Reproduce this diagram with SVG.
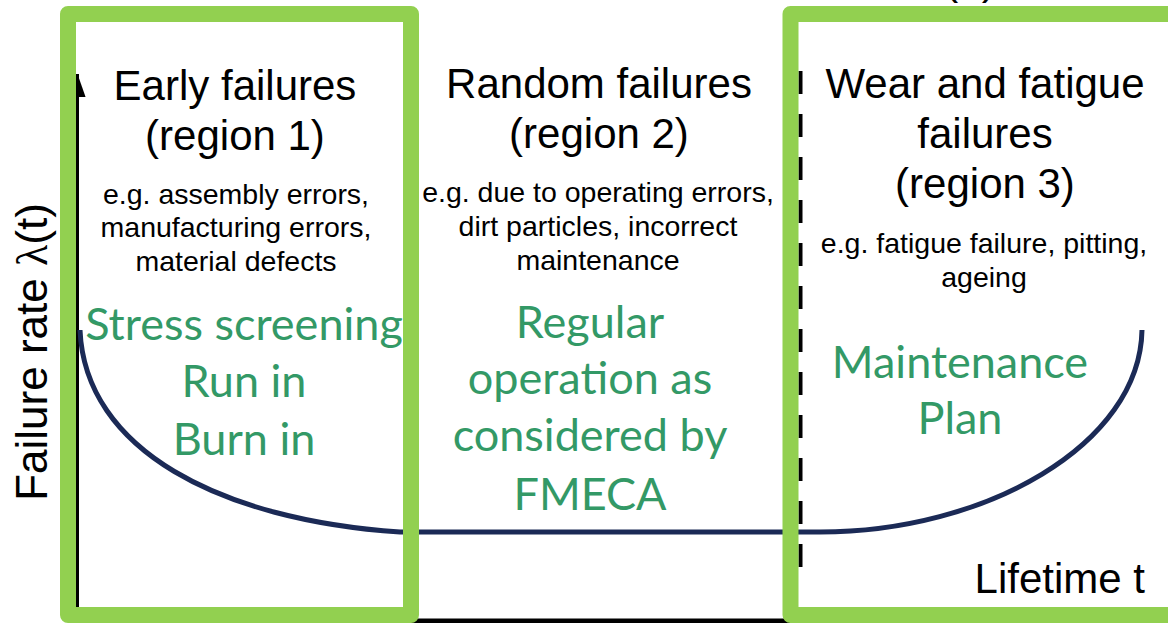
<svg xmlns="http://www.w3.org/2000/svg" width="1168" height="623" viewBox="0 0 1168 623">
  <style>
    .title { font-family: "Liberation Sans", Arial, sans-serif; font-size: 42px; fill: #000; text-anchor: middle; }
    .note { font-family: "Liberation Sans", Arial, sans-serif; font-size: 28.5px; fill: #000; text-anchor: middle; }
    .measure { font-family: Lato, "Open Sans", sans-serif; font-size: 45px; fill: #339966; text-anchor: middle; }
    .frame { fill: none; stroke: #92d050; stroke-width: 16; stroke-linejoin: round; }
    .curve { fill: none; stroke: #1b2a56; stroke-width: 5; }
  </style>
  <defs>
    <marker id="axisHead" viewBox="0 0 10 10" refX="10" refY="5" markerWidth="7.7" markerHeight="5.4" markerUnits="strokeWidth" orient="auto" preserveAspectRatio="none">
      <path d="M0,0 L10,5 L0,10 Z" fill="#000"/>
    </marker>
  </defs>

  <rect width="1168" height="623" fill="#fff"/>

  <!-- caption above the chart, running off the top edge -->
  <text class="title" x="970" y="-6">(a)</text>

  <!-- axes, bathtub curve and region boundary -->
  <g id="connectors">
    <line x1="77.5" y1="608" x2="77.5" y2="74" stroke="#000" stroke-width="3" marker-end="url(#axisHead)"/>
    <line x1="70" y1="621" x2="1160" y2="621" stroke="#000" stroke-width="5"/>
    <line x1="800.5" y1="71" x2="800.5" y2="584" stroke="#000" stroke-width="4" stroke-dasharray="23 20"/>
    <path class="curve" d="M80,330 C85,450 220,520 400,532 L820,532 C985,532 1140,445 1142,330"/>
  </g>

  <!-- y axis label -->
  <text class="title" style="font-size:44px" transform="translate(47,352) rotate(-90)">Failure rate <tspan font-family="'Liberation Serif', serif">λ</tspan>(t)</text>

  <!-- x axis label -->
  <text class="title" x="1145" y="593" style="text-anchor:end">Lifetime t</text>

  <g id="region1">
    <text class="title" x="235" y="100">Early failures</text>
    <text class="title" x="235" y="150">(region 1)</text>
    <text class="note" x="236" y="204">e.g. assembly errors,</text>
    <text class="note" x="236" y="237">manufacturing errors,</text>
    <text class="note" x="236" y="271">material defects</text>
    <text class="measure" x="244" y="340">Stress screening</text>
    <text class="measure" x="244" y="397">Run in</text>
    <text class="measure" x="244" y="455">Burn in</text>
    <rect class="frame" x="68" y="14" width="343" height="601"/>
  </g>

  <g id="region2">
    <text class="title" x="599" y="98">Random failures</text>
    <text class="title" x="599" y="148">(region 2)</text>
    <text class="note" x="598" y="202">e.g. due to operating errors,</text>
    <text class="note" x="598" y="236">dirt particles, incorrect</text>
    <text class="note" x="598" y="270">maintenance</text>
    <text class="measure" x="590" y="338">Regular</text>
    <text class="measure" x="590" y="394">operation as</text>
    <text class="measure" x="590" y="451">considered by</text>
    <text class="measure" x="590" y="510">FMECA</text>
  </g>

  <g id="region3">
    <text class="title" x="985" y="98">Wear and fatigue</text>
    <text class="title" x="985" y="148">failures</text>
    <text class="title" x="985" y="198">(region 3)</text>
    <text class="note" x="984" y="253">e.g. fatigue failure, pitting,</text>
    <text class="note" x="984" y="287">ageing</text>
    <text class="measure" x="960" y="378">Maintenance</text>
    <text class="measure" x="960" y="434">Plan</text>
    <rect class="frame" x="790.5" y="14" width="400" height="601"/>
  </g>
</svg>
